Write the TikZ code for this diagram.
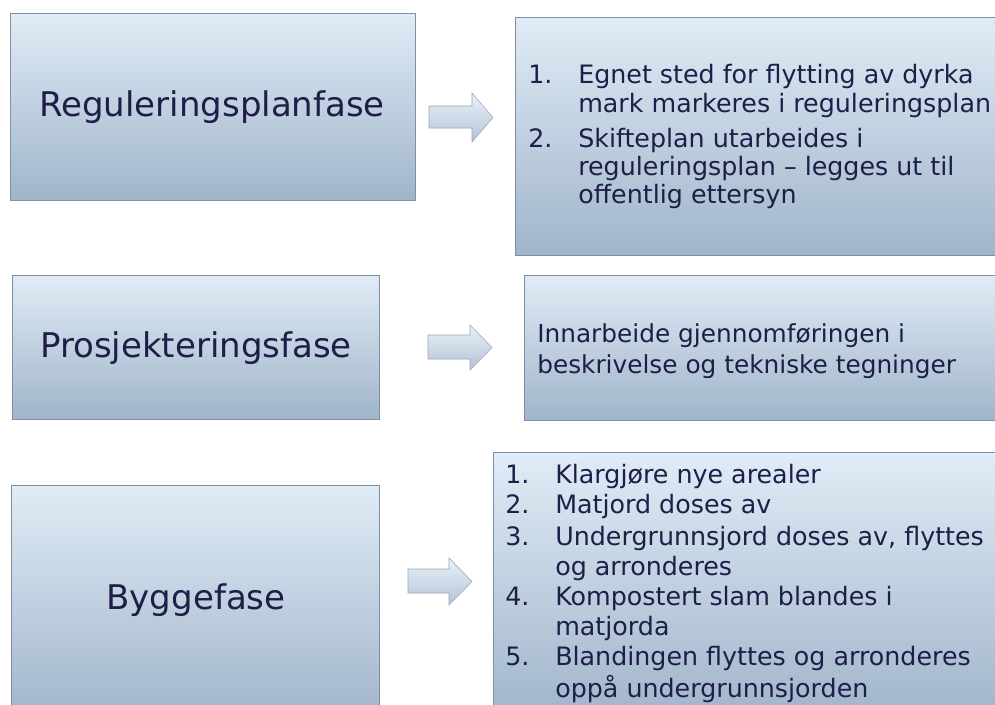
\documentclass[tikz,border=0pt]{standalone}
\usepackage{fontspec}
\setmainfont{DejaVu Sans}
\definecolor{boxtop}{RGB}{224,236,246}
\definecolor{boxbot}{RGB}{160,180,202}
\definecolor{boxline}{RGB}{128,142,168}
\definecolor{txt}{RGB}{30,30,72}
\tikzset{
  phasebox/.style={draw=boxline, line width=0.6pt, top color=boxtop, bottom color=boxbot},
  phasetext/.style={text=txt, font=\fontsize{25.5pt}{30pt}\selectfont, inner sep=0pt},
  itemtext/.style={text=txt, font=\fontsize{19pt}{22pt}\selectfont, inner sep=0pt, anchor=base west},
  midtext/.style={text=txt, font=\fontsize{18.6pt}{22pt}\selectfont, inner sep=0pt, anchor=base west},
  blockarrow/.style={draw=boxline!80, line width=0.4pt, top color=boxtop!70!white, bottom color=boxbot!80!white}
}
\begin{document}
\begin{tikzpicture}[x=0.75pt,y=-0.75pt]
\useasboundingbox (0,0) rectangle (995,704);
\clip (0,0) rectangle (995,704);
\fill[white] (0,0) rectangle (995,704);
% boxes
\path[phasebox] (10,13) rectangle (415,200);
\path[phasebox] (515,17) rectangle (1010,255);
\path[phasebox] (12,275) rectangle (379,419);
\path[phasebox] (524,275) rectangle (1010,420);
\path[phasebox] (11,485) rectangle (379,720);
\path[phasebox] (493,452) rectangle (1010,720);
% labels
\node[phasetext] (l1) at (212,107) {Reguleringsplanfase};
\node[phasetext] (l2) at (196,348) {Prosjekteringsfase};
\node[phasetext] (l3) at (196,600) {Byggefase};
% arrows
\path[blockarrow] (429,106) -- (472,106) -- (472,93) -- (493,117.5) -- (472,142) -- (472,128) -- (429,128) -- cycle;
\path[blockarrow] (428,335) -- (470,335) -- (470,325) -- (492,347.5) -- (470,370) -- (470,359) -- (428,359) -- cycle;
\path[blockarrow] (408,569) -- (449,569) -- (449,558) -- (472,581.5) -- (449,605) -- (449,593) -- (408,593) -- cycle;
% top right
\node[itemtext] (n11) at (528,83) {1.};
\node[itemtext] (t11) at (578,83) {Egnet sted for flytting av dyrka};
\node[itemtext] (t12) at (578,112) {mark markeres i reguleringsplan};
\node[itemtext] (n12) at (528,147) {2.};
\node[itemtext] (t13) at (578,147) {Skifteplan utarbeides i};
\node[itemtext] (t14) at (578,175) {reguleringsplan – legges ut til};
\node[itemtext] (t15) at (578,203) {offentlig ettersyn};
% middle right
\node[midtext] (t21) at (537,342) {Innarbeide gjennomføringen i};
\node[midtext] (t22) at (537,373) {beskrivelse og tekniske tegninger};
% bottom right
\node[itemtext] (n31) at (505,483) {1.};
\node[itemtext] (t31) at (555,483) {Klargjøre nye arealer};
\node[itemtext] (n32) at (505,513) {2.};
\node[itemtext] (t32) at (555,513) {Matjord doses av};
\node[itemtext] (n33) at (505,545) {3.};
\node[itemtext] (t33) at (555,545) {Undergrunnsjord doses av, flyttes};
\node[itemtext] (t34) at (555,575) {og arronderes};
\node[itemtext] (n34) at (505,605) {4.};
\node[itemtext] (t35) at (555,605) {Kompostert slam blandes i};
\node[itemtext] (t36) at (555,635) {matjorda};
\node[itemtext] (n35) at (505,665) {5.};
\node[itemtext] (t37) at (555,665) {Blandingen flyttes og arronderes};
\node[itemtext] (t38) at (555,697) {oppå undergrunnsjorden};
\end{tikzpicture}
\end{document}
